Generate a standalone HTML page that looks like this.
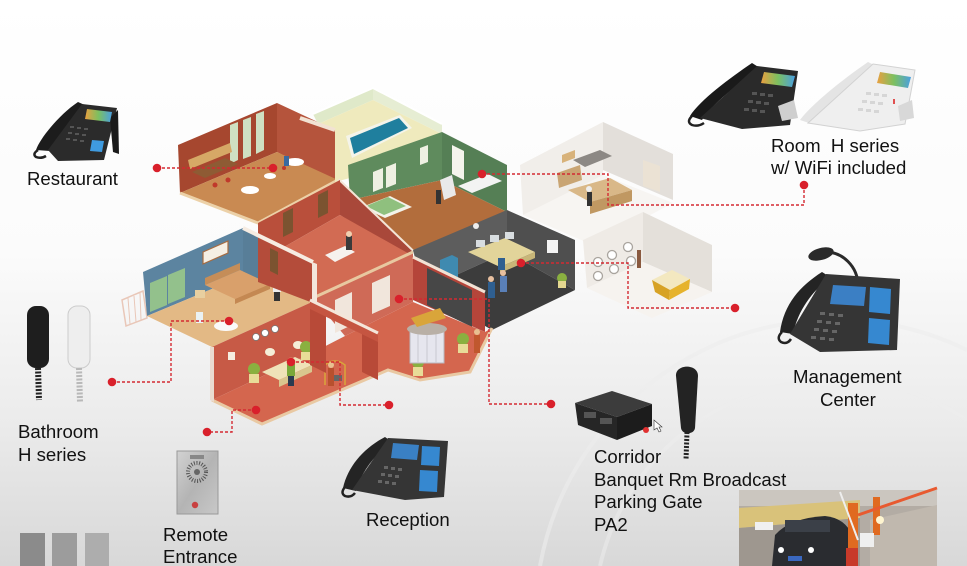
<!DOCTYPE html>
<html><head><meta charset="utf-8"><style>
html,body{margin:0;padding:0;background:#fff;}
svg{display:block;}
text{font-family:"Liberation Sans",Arial,sans-serif;fill:#111;}
</style></head><body>
<svg width="967" height="566" viewBox="0 0 967 566" xmlns="http://www.w3.org/2000/svg">
<defs>
<linearGradient id="bg" x1="0" y1="0" x2="0" y2="1">
<stop offset="0" stop-color="#ffffff"/><stop offset="0.45" stop-color="#fbfbfb"/>
<stop offset="0.75" stop-color="#ebebeb"/><stop offset="1" stop-color="#d8d8d8"/>
</linearGradient>
<linearGradient id="scr" x1="0" y1="0" x2="1" y2="0">
<stop offset="0" stop-color="#e9a040"/><stop offset="0.5" stop-color="#7cc060"/><stop offset="1" stop-color="#4aa0e0"/>
</linearGradient>
<linearGradient id="metal" x1="0" y1="0" x2="1" y2="1">
<stop offset="0" stop-color="#d2d2d2"/><stop offset="0.5" stop-color="#b4b4b4"/><stop offset="1" stop-color="#c8c8c8"/>
</linearGradient>
</defs>
<rect width="967" height="566" fill="url(#bg)"/>
<path d="M540 566 A300 300 0 0 1 967 350" stroke="#ededed" stroke-width="4" fill="none" opacity="0.6"/>
<path d="M600 566 A240 240 0 0 1 967 420" stroke="#ededed" stroke-width="4" fill="none" opacity="0.5"/>

<!-- Kitchen (faded) -->
<polygon points="520,165 603,122 603,178 523,215" fill="#f1eeea"/>
<polygon points="603,122 673,154 673,200 603,170" fill="#e3dfda"/>
<polygon points="523,215 603,175 673,203 593,245" fill="#f7f5f2"/>
<polygon points="557,173 580,165 582,180 559,188" fill="#c9a574"/>
<polygon points="573,160 600,150 612,156 585,167" fill="#8c8884"/>
<polygon points="562,155 575,150 575,158 562,163" fill="#d8b27a"/>
<polygon points="568,190 610,178 632,190 590,202" fill="#d9b888"/>
<polygon points="590,202 632,190 632,201 590,214" fill="#c09862"/>
<polygon points="643,160 660,166 660,192 643,186" fill="#ebe2d4"/>
<rect x="587" y="192" width="5" height="14" fill="#333"/><circle cx="589" cy="189" r="3" fill="#eee"/>
<!-- Laundry (faded) -->
<polygon points="583,240 643,212 643,262 587,288" fill="#efebe6"/>
<polygon points="643,212 712,245 712,292 643,262" fill="#e4e0da"/>
<polygon points="587,288 643,262 712,292 652,318" fill="#f6f3ef"/>
<g fill="#fff" stroke="#a9a49e" stroke-width="1.3">
<circle cx="598" cy="262" r="4.5"/><circle cx="612" cy="255" r="4.5"/><circle cx="628" cy="247" r="4.5"/>
<circle cx="598" cy="276" r="4.5"/><circle cx="614" cy="269" r="4.5"/><circle cx="631" cy="261" r="4.5"/>
</g>
<polygon points="652,280 672,270 690,279 670,290" fill="#f3e8c0"/>
<polygon points="652,280 670,290 669,300 655,292" fill="#d7a224"/>
<polygon points="670,290 690,279 689,289 669,300" fill="#e6b32c"/>
<rect x="637" y="250" width="4" height="18" fill="#8a5a40"/>

<!-- Restaurant block -->
<polygon points="178,145 277,103 277,152 180,193" fill="#a6472f"/>
<g fill="#cfe0c2"><polygon points="230,125 238,122 238,160 230,164"/><polygon points="243,120 251,117 251,156 243,159"/><polygon points="256,114 264,111 264,150 256,154"/></g>
<polygon points="277,103 335,130 335,182 277,152" fill="#b5543c"/>
<polygon points="180,193 277,152 338,180 258,223" fill="#c98a52"/>
<polyline points="180,193 258,223 338,180" fill="none" stroke="#ecd1a8" stroke-width="3"/>
<polygon points="188,160 230,143 232,152 190,169" fill="#d6a866"/>
<polygon points="192,172 225,158 238,164 205,178" fill="#8e5b34"/>
<g fill="#fff"><ellipse cx="295" cy="162" rx="9" ry="4"/><ellipse cx="250" cy="190" rx="9" ry="4"/><ellipse cx="270" cy="176" rx="6" ry="3"/></g>
<g fill="#c0392b"><circle cx="215" cy="185" r="2.5"/><circle cx="228" cy="180" r="2.5"/><circle cx="284" cy="168" r="2"/></g>
<rect x="284" y="156" width="5" height="10" fill="#3a6aa0"/>

<!-- Pool -->
<polygon points="313,114 373,88 373,100 318,124" fill="#dfe9c9"/>
<polygon points="373,88 442,124 442,134 373,100" fill="#e6edd3"/>
<polygon points="318,124 373,100 442,134 350,178 335,182 335,130" fill="#efeabd"/>
<polygon points="346,136 400,115 412,128 352,158" fill="#f4f4ea"/>
<polygon points="350,138 399,118 408,128 354,154" fill="#1f7f9e"/>
<polyline points="313,114 373,88 442,124" fill="none" stroke="#fff" stroke-width="2"/>
<polyline points="300,118 335,130" fill="none" stroke="#f2e2d2" stroke-width="4"/>

<!-- Green room -->
<polygon points="348,165 442,132 442,180 350,200" fill="#5f8b5d"/>
<polygon points="442,132 507,165 507,212 442,180" fill="#557f55"/>
<g fill="#eef0e2"><polygon points="373,172 383,168 383,188 373,192"/><polygon points="386,167 396,163 396,184 386,188"/><polygon points="420,148 428,145 428,162 420,165"/></g>
<polygon points="452,145 464,151 464,180 452,174" fill="#f4f4ec"/>
<polygon points="350,200 442,180 507,212 413,252" fill="#b26d3c"/>
<polygon points="362,207 390,196 412,207 385,218" fill="#f3f3ea"/>
<polygon points="366,206 388,197 406,206 384,215" fill="#8fc07e"/>
<polygon points="458,186 488,174 502,181 472,193" fill="#f3f3f3"/>
<polygon points="440,180 452,175 456,195 444,200" fill="#e9e9e9"/>
<rect x="436" y="190" width="5" height="14" fill="#333"/>
<polyline points="338,180 413,252" fill="none" stroke="#f3e4d6" stroke-width="4"/>

<!-- Upper corridor -->
<polygon points="258,223 340,180 340,215 258,262" fill="#b94f3b"/>
<g fill="#7b5330"><polygon points="283,213 293,208 293,232 283,237"/><polygon points="318,195 328,190 328,213 318,218"/></g>
<polygon points="340,182 413,252 413,262 340,215" fill="#a9483a"/>
<polygon points="258,262 340,215 413,256 313,298" fill="#d26b53"/>
<polygon points="325,255 345,246 355,252 335,262" fill="#f6f2ee"/>
<rect x="346" y="236" width="6" height="14" fill="#3a3a3a"/><circle cx="349" cy="234" r="3" fill="#f0d0b0"/>

<!-- Middle red wall with windows -->
<polygon points="313,298 413,252 413,302 345,336" fill="#cf6a57"/>
<g fill="#f1e6dc"><polygon points="335,300 352,292 352,325 335,333"/><polygon points="372,283 390,275 390,306 372,314"/></g>
<polyline points="313,298 413,252" fill="none" stroke="#e8c8a0" stroke-width="3"/>

<!-- Dark office -->
<polygon points="413,250 507,210 507,252 423,290" fill="#5d5d5d"/>
<polygon points="507,210 575,240 575,290 507,252" fill="#4f4f4f"/>
<rect x="547" y="240" width="11" height="13" fill="#f4f4f4"/>
<polygon points="423,290 507,252 575,290 492,330" fill="#3c3c3c"/>
<polygon points="468,252 505,238 535,252 500,267" fill="#e2d49a"/>
<polygon points="500,267 535,252 535,258 500,273" fill="#c8b678"/>
<g fill="#d8dde0"><rect x="476" y="240" width="9" height="7"/><rect x="490" y="235" width="9" height="7"/><rect x="505" y="232" width="9" height="7"/></g>
<polygon points="440,260 452,255 458,258 458,283 446,288 440,285" fill="#3f8ab0"/>
<circle cx="476" cy="226" r="3" fill="#eee"/>
<g><rect x="488" y="282" width="7" height="16" fill="#2f5f90"/><circle cx="491" cy="279" r="3" fill="#e8c0a0"/>
<rect x="500" y="276" width="7" height="16" fill="#5a80b8"/><circle cx="503" cy="273" r="3" fill="#e8c0a0"/>
<rect x="498" y="258" width="7" height="12" fill="#2f5f90"/></g>
<circle cx="562" cy="278" r="5" fill="#8ab040"/><rect x="558" y="281" width="8" height="7" fill="#e4d790"/>
<polygon points="413,258 485,293 485,332 413,300" fill="#b5453a"/>
<polygon points="427,268 472,290 472,327 427,305" fill="#474747"/>
<polyline points="413,257 485,292" fill="none" stroke="#f2e2d4" stroke-width="3"/>

<!-- Blue bedroom -->
<polygon points="122,300 143,291 147,318 126,326" fill="none" stroke="#e9c7b8" stroke-width="1.5"/>
<g stroke="#e9c7b8" stroke-width="1"><line x1="128" y1="298" x2="130" y2="324"/><line x1="134" y1="296" x2="136" y2="322"/><line x1="140" y1="293" x2="141" y2="320"/></g>
<polygon points="143,272 243,228 243,276 147,316" fill="#5c84a0"/>
<polygon points="243,228 258,236 258,282 243,276" fill="#587e98"/>
<g fill="#93c18c"><polygon points="150,283 167,276 167,305 150,312"/><polygon points="168,275 185,268 185,297 168,304"/></g>
<polygon points="203,252 228,241 228,253 203,264" fill="#f5efe4" stroke="#a66b40" stroke-width="1.2"/>
<polygon points="147,316 243,276 312,302 212,347" fill="#e3b985"/>
<polygon points="205,278 240,263 240,270 205,285" fill="#c58d58"/>
<polygon points="205,285 240,270 270,284 235,299" fill="#d9a06b"/>
<polygon points="235,299 270,284 270,289 235,304" fill="#c48852"/>
<rect x="195" y="290" width="10" height="8" fill="#e8cfa0"/>
<ellipse cx="226" cy="326" rx="12" ry="5" fill="#fafafa"/>
<rect x="196" y="312" width="7" height="11" fill="#eaf2f4"/>
<rect x="273" y="276" width="8" height="16" fill="#eee"/><rect x="274" y="292" width="6" height="9" fill="#333"/><circle cx="277" cy="272" r="3.5" fill="#e8c090"/>
<polygon points="258,236 313,262 313,303 258,282" fill="#b44c3a"/>
<polygon points="270,248 278,252 278,275 270,271" fill="#7b5330"/>
<polyline points="243,228 313,262" fill="none" stroke="#f6ece2" stroke-width="4"/>
<polygon points="312,262 317,264 317,304 312,302" fill="#f3e6dc"/>

<!-- Lobby -->
<polygon points="212,347 312,302 312,353 212,400" fill="#c75a46"/>
<g fill="#fff" stroke="#777" stroke-width="0.8"><circle cx="256" cy="337" r="3.5"/><circle cx="265" cy="333" r="3.5"/><circle cx="275" cy="329" r="3.5"/></g>
<rect x="228" y="352" width="7" height="8" fill="#f5ede0"/>
<polygon points="212,400 312,353 345,336 413,302 485,332 492,328 470,372 420,380 388,370 262,424" fill="#d4664e"/>
<polyline points="212,400 262,424 388,370 420,380 470,372 492,328" fill="none" stroke="#e9c9a3" stroke-width="3"/>
<polygon points="210,347 214,347 214,402 210,400" fill="#eadbd0"/>
<polygon points="262,372 295,357 312,365 279,380" fill="#efe2b8"/>
<polygon points="279,380 312,365 312,372 279,387" fill="#d9c68e"/>
<ellipse cx="270" cy="352" rx="5" ry="4" fill="#f5efd8"/><ellipse cx="298" cy="345" rx="5" ry="4" fill="#f5efd8"/>
<rect x="287" y="364" width="8" height="12" fill="#7aa83a"/><rect x="288" y="376" width="6" height="10" fill="#2a3a50"/><circle cx="291" cy="361" r="3.5" fill="#e8c090"/>
<g><circle cx="254" cy="369" r="6" fill="#8ab040"/><rect x="249" y="374" width="10" height="9" fill="#e8dc98"/>
<circle cx="306" cy="347" r="6" fill="#8ab040"/><rect x="301" y="352" width="10" height="8" fill="#e8dc98"/>
<circle cx="418" cy="362" r="6" fill="#8ab040"/><rect x="413" y="367" width="10" height="9" fill="#e8dc98"/>
<circle cx="463" cy="339" r="6" fill="#8ab040"/><rect x="458" y="344" width="10" height="9" fill="#e8dc98"/></g>
<path d="M325,385 v-20 q10,-8 20,0 v20" fill="none" stroke="#d9a53a" stroke-width="1.5"/>
<rect x="328" y="375" width="14" height="6" fill="#666"/>
<rect x="328" y="368" width="6" height="18" fill="#b8502e"/><circle cx="331" cy="365" r="3" fill="#e8c090"/>
<rect x="474" y="335" width="6" height="18" fill="#c0582e"/><circle cx="477" cy="332" r="3" fill="#e8c090"/>
<!-- Revolving door -->
<rect x="410" y="330" width="34" height="33" fill="#e6e6ee" stroke="#b8b8c0" stroke-width="1"/>
<g stroke="#c8c8d0" stroke-width="1"><line x1="418" y1="331" x2="418" y2="363"/><line x1="427" y1="331" x2="427" y2="363"/><line x1="436" y1="331" x2="436" y2="363"/></g>
<ellipse cx="427" cy="329" rx="20" ry="6" fill="#b9b0a6"/>
<polygon points="411,318 440,308 446,318 417,327" fill="#d9a53a"/>
<!-- Archway partition -->
<polygon points="310,303 326,311 326,373 310,365" fill="#b84a38"/>
<polygon points="362,328 378,336 378,380 362,372" fill="#b84a38"/>
<polygon points="310,300 378,333 378,342 310,309" fill="#c55541"/>
<polyline points="310,300 378,333" fill="none" stroke="#f4e6da" stroke-width="3"/>

<!-- Connectors -->
<g stroke="#d42a32" stroke-width="1.4" stroke-dasharray="3 2" fill="none">
<path d="M157 168 H273"/>
<path d="M482 174 H608 V205 H804 V185"/>
<path d="M521 263 H628 V308 H735"/>
<path d="M399 299 H489 V404 H551"/>
<path d="M229 321 H171 V382 H112"/>
<path d="M291 362 H340 V405 H389"/>
<path d="M256 410 H232 V432 H207"/>
</g>
<g fill="#d9202b">
<circle cx="157" cy="168" r="4.3"/><circle cx="273" cy="168" r="4.3"/><circle cx="482" cy="174" r="4.3"/><circle cx="804" cy="185" r="4.3"/>
<circle cx="521" cy="263" r="4.3"/><circle cx="735" cy="308" r="4.3"/><circle cx="399" cy="299" r="4.3"/><circle cx="551" cy="404" r="4.3"/>
<circle cx="229" cy="321" r="4.3"/><circle cx="112" cy="382" r="4.3"/><circle cx="291" cy="362" r="4.3"/><circle cx="389" cy="405" r="4.3"/>
<circle cx="256" cy="410" r="4.3"/><circle cx="207" cy="432" r="4.3"/>
</g>

<!-- Restaurant phone -->
<path d="M36,150 C40,138 60,114 78,102 L87,106 C70,120 55,140 50,151 Z" fill="#1c1c1c"/>
<polygon points="48,150 82,104 117,108 104,160 58,161" fill="#2b2b2b"/>
<polygon points="110,118 118,110 119,154 113,152" fill="#1a1a1a"/>
<polygon points="87,109 112,112 110,122 85,119" fill="url(#scr)"/>
<polygon points="92,140 104,141 102,152 90,151" fill="#3f9be0"/>
<g fill="#555"><rect x="70" y="126" width="4" height="2"/><rect x="77" y="127" width="4" height="2"/><rect x="84" y="128" width="4" height="2"/><rect x="68" y="132" width="4" height="2"/><rect x="75" y="133" width="4" height="2"/><rect x="82" y="134" width="4" height="2"/><rect x="66" y="138" width="4" height="2"/><rect x="73" y="139" width="4" height="2"/><rect x="80" y="140" width="4" height="2"/></g>
<path d="M38,150 q-6,4 -2,7 q5,2 10,-1" fill="none" stroke="#222" stroke-width="2.5"/>

<!-- Room H series phones -->
<path d="M690,116 C700,100 730,78 752,63 L760,68 C738,84 712,104 702,120 Z" fill="#1a1a1a"/>
<polygon points="700,118 757,66 798,71 790,125 742,129" fill="#2a2a2a"/>
<polygon points="764,72 795,76 792,87 761,83" fill="url(#scr)"/>
<g fill="#555"><rect x="752" y="92" width="5" height="3"/><rect x="760" y="93" width="5" height="3"/><rect x="768" y="94" width="5" height="3"/><rect x="748" y="100" width="5" height="3"/><rect x="756" y="101" width="5" height="3"/><rect x="764" y="102" width="5" height="3"/><rect x="744" y="108" width="5" height="3"/><rect x="752" y="109" width="5" height="3"/><rect x="760" y="110" width="5" height="3"/></g>
<polygon points="778,106 794,100 798,118 782,121" fill="#cfcfcf"/>
<path d="M692,116 q-6,6 0,9 q6,2 12,-2" fill="none" stroke="#222" stroke-width="2.5"/>
<path d="M800,120 C812,104 842,80 868,62 L876,66 C852,84 824,106 812,124 Z" fill="#e4e4e4"/>
<polygon points="808,123 873,64 915,70 905,124 860,131" fill="#efefef" stroke="#d2d2d2" stroke-width="1"/>
<polygon points="880,72 911,77 908,88 877,83" fill="url(#scr)"/>
<g fill="#d6d6d6"><rect x="866" y="92" width="5" height="3"/><rect x="874" y="93" width="5" height="3"/><rect x="882" y="94" width="5" height="3"/><rect x="862" y="100" width="5" height="3"/><rect x="870" y="101" width="5" height="3"/><rect x="878" y="102" width="5" height="3"/><rect x="858" y="108" width="5" height="3"/><rect x="866" y="109" width="5" height="3"/><rect x="874" y="110" width="5" height="3"/></g>
<rect x="893" y="99" width="2" height="5" fill="#e05050"/>
<polygon points="898,106 912,100 914,118 900,121" fill="#d8d8d8"/>

<!-- Management phone -->
<path d="M858,286 C858,266 842,252 826,252" fill="none" stroke="#2a2a2a" stroke-width="3"/>
<ellipse cx="821" cy="254" rx="13" ry="6" transform="rotate(-15 821 254)" fill="#2a2a2a"/>
<path d="M780,332 C784,304 800,286 822,272 L830,277 C812,292 798,310 793,334 Z" fill="#242424"/>
<polygon points="790,334 826,274 900,279 897,350 820,352" fill="#353535"/>
<polygon points="833,285 866,287 864,306 830,304" fill="#3b7fc4"/>
<polygon points="870,287 891,289 890,314 869,312" fill="#3688d0"/>
<polygon points="869,318 890,320 889,345 868,343" fill="#3688d0"/>
<g fill="#666"><rect x="820" y="312" width="5" height="3"/><rect x="829" y="313" width="5" height="3"/><rect x="838" y="314" width="5" height="3"/><rect x="817" y="320" width="5" height="3"/><rect x="826" y="321" width="5" height="3"/><rect x="835" y="322" width="5" height="3"/><rect x="814" y="328" width="5" height="3"/><rect x="823" y="329" width="5" height="3"/><rect x="832" y="330" width="5" height="3"/><rect x="811" y="336" width="5" height="3"/><rect x="820" y="337" width="5" height="3"/><rect x="829" y="338" width="5" height="3"/></g>
<path d="M782,332 q-6,6 -1,10 q6,3 10,-3" fill="none" stroke="#222" stroke-width="2.5"/>

<!-- Bathroom handsets -->
<rect x="27" y="306" width="22" height="62" rx="9" fill="#1e1e1e"/>
<path d="M38,368 L39,400" stroke="#222" stroke-width="6" stroke-dasharray="2 1.5"/>
<rect x="68" y="306" width="22" height="62" rx="9" fill="#eeeeee" stroke="#cccccc" stroke-width="1"/>
<path d="M79,368 L80,402" stroke="#b8b8b8" stroke-width="6" stroke-dasharray="2 1.5"/>

<!-- Remote entrance panel -->
<rect x="177" y="451" width="41" height="63" fill="url(#metal)" stroke="#999" stroke-width="1"/>
<rect x="190" y="455" width="14" height="4" fill="#888"/>
<circle cx="197" cy="472" r="9" fill="none" stroke="#555" stroke-width="4" stroke-dasharray="1 1.6"/>
<circle cx="197" cy="472" r="3" fill="#666"/>
<circle cx="195" cy="505" r="3.2" fill="#c84040"/>

<!-- Reception phone -->
<path d="M343,488 C348,466 364,448 385,437 L392,442 C374,455 362,471 356,491 Z" fill="#242424"/>
<polygon points="352,490 388,438 448,441 444,497 405,500" fill="#353535"/>
<polygon points="393,443 419,445 417,460 391,458" fill="#3a80c4"/>
<polygon points="422,446 440,447 439,466 421,465" fill="#3688d0"/>
<polygon points="420,470 438,471 437,492 419,491" fill="#3688d0"/>
<g fill="#666"><rect x="384" y="466" width="4" height="3"/><rect x="391" y="467" width="4" height="3"/><rect x="398" y="468" width="4" height="3"/><rect x="381" y="473" width="4" height="3"/><rect x="388" y="474" width="4" height="3"/><rect x="395" y="475" width="4" height="3"/><rect x="378" y="480" width="4" height="3"/><rect x="385" y="481" width="4" height="3"/><rect x="392" y="482" width="4" height="3"/></g>
<path d="M345,487 q-5,6 0,9 q6,2 10,-3" fill="none" stroke="#222" stroke-width="2.5"/>

<!-- PA box -->
<polygon points="575,403 612,391 652,404 617,417" fill="#3c3c3c"/>
<polygon points="575,403 617,417 617,440 578,425" fill="#262626"/>
<polygon points="617,417 652,404 652,426 617,440" fill="#1c1c1c"/>
<g fill="#555"><rect x="584" y="412" width="12" height="6"/><rect x="600" y="418" width="12" height="6"/></g>
<circle cx="646" cy="430" r="3" fill="#e03030"/>
<path d="M654,420 l0,10 l3,-2 l2,4 l2,-1 l-2,-4 l3,0 Z" fill="#fff" stroke="#333" stroke-width="0.6"/>
<!-- PA handset -->
<path d="M676,376 C675,364 698,363 698,376 L695,428 C694,435 682,435 681,428 Z" fill="#232323"/>
<path d="M687,432 L686,460" stroke="#222" stroke-width="5" stroke-dasharray="2 1.5"/>

<!-- Parking photo -->
<rect x="739" y="490" width="198" height="76" fill="#b3aca4"/>
<rect x="739" y="490" width="198" height="16" fill="#cbc6bf"/>
<polygon points="739,508 860,500 860,518 739,528" fill="#d9c27a"/>
<polygon points="739,528 860,518 860,566 739,566" fill="#9e978f"/>
<rect x="755" y="522" width="18" height="8" fill="#f0f0f0"/>
<polygon points="870,520 937,505 937,566 870,566" fill="#c0b8ae"/>
<path d="M772,566 L775,535 Q790,518 825,516 Q845,518 852,535 L855,566 Z" fill="#2a2c30"/>
<rect x="785" y="520" width="45" height="12" fill="#3b4048"/>
<circle cx="781" cy="550" r="3" fill="#fff"/><circle cx="811" cy="550" r="3" fill="#fff"/>
<rect x="788" y="556" width="14" height="5" fill="#3a68c0"/>
<rect x="848" y="503" width="10" height="57" fill="#e06a20"/>
<rect x="873" y="497" width="7" height="38" fill="#e06a20"/>
<line x1="858" y1="515" x2="937" y2="488" stroke="#e85a30" stroke-width="3"/>
<line x1="840" y1="492" x2="858" y2="540" stroke="#eee" stroke-width="2"/>
<rect x="846" y="548" width="12" height="18" fill="#c83a2a"/>
<rect x="860" y="533" width="14" height="14" fill="#efefef"/>
<circle cx="880" cy="520" r="4" fill="#fff5d0"/>

<!-- Gray squares -->
<rect x="20" y="533" width="25" height="33" fill="#8b8b8b"/>
<rect x="52" y="533" width="25" height="33" fill="#9c9c9c"/>
<rect x="85" y="533" width="24" height="33" fill="#adadad"/>

<!-- Labels -->
<g font-size="18.6">
<text x="27" y="185">Restaurant</text>
<text x="771" y="152" xml:space="preserve">Room  H series</text>
<text x="771" y="174">w/ WiFi included</text>
<text x="793" y="383">Management</text>
<text x="820" y="406">Center</text>
<text x="18" y="438">Bathroom</text>
<text x="18" y="461">H series</text>
<text x="163" y="541">Remote</text>
<text x="163" y="563">Entrance</text>
<text x="366" y="526">Reception</text>
<text x="594" y="463">Corridor</text>
<text x="594" y="486">Banquet Rm Broadcast</text>
<text x="594" y="508">Parking Gate</text>
<text x="594" y="531">PA2</text>
</g>
</svg>
</body></html>
